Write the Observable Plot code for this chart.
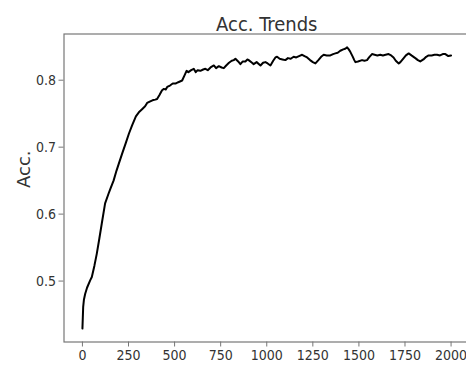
<!DOCTYPE html>
<html><head><meta charset="utf-8">
<script src="https://cdn.jsdelivr.net/npm/d3@7"></script>
<script src="https://cdn.jsdelivr.net/npm/@observablehq/plot@0.6"></script>
<style>
html,body{margin:0;padding:0;background:#fff;overflow:hidden;}
</style></head><body><div id="chart"></div>
<script>
const title = "Acc. Trends";
const yLabel = "Acc.";
const xTicks = [0, 250, 500, 750, 1000, 1250, 1500, 1750, 2000];
const yTicks = [0.5, 0.6, 0.7, 0.8];
const steps = [0,2,4,8,15,25,42,51,65,78,92,105,123,141,152,169,185,197,215,235,252,270,290,306,325,340,351,365,380,395,405,418,432,442,452,460,475,490,505,520,541,552,565,575,590,604,615,625,640,655,667,680,695,713,725,740,755,767,780,795,810,821,830,845,857,870,884,895,902,920,929,945,966,980,993,1005,1020,1035,1047,1056,1070,1085,1101,1115,1130,1146,1160,1175,1192,1205,1219,1235,1250,1264,1280,1295,1309,1325,1345,1360,1372,1385,1399,1415,1426,1436,1445,1454,1465,1475,1481,1495,1517,1530,1544,1555,1571,1585,1600,1616,1630,1645,1661,1675,1688,1700,1716,1725,1743,1755,1770,1785,1806,1820,1833,1850,1865,1878,1895,1910,1924,1940,1955,1969,1985,2000];
const acc = [0.429,0.445,0.461,0.472,0.481,0.490,0.501,0.506,0.523,0.541,0.564,0.586,0.616,0.630,0.638,0.650,0.665,0.675,0.690,0.706,0.720,0.733,0.746,0.752,0.757,0.761,0.766,0.768,0.770,0.771,0.772,0.778,0.785,0.787,0.786,0.790,0.792,0.795,0.795,0.797,0.7995,0.806,0.814,0.812,0.815,0.817,0.812,0.815,0.814,0.816,0.817,0.815,0.819,0.822,0.818,0.821,0.819,0.818,0.822,0.826,0.829,0.830,0.832,0.828,0.824,0.828,0.828,0.831,0.830,0.826,0.824,0.827,0.822,0.826,0.827,0.825,0.822,0.829,0.834,0.835,0.832,0.831,0.830,0.833,0.832,0.835,0.834,0.836,0.838,0.836,0.834,0.830,0.827,0.825,0.830,0.835,0.838,0.837,0.837,0.839,0.840,0.841,0.844,0.846,0.847,0.849,0.846,0.842,0.836,0.830,0.827,0.828,0.830,0.829,0.830,0.834,0.839,0.838,0.837,0.838,0.837,0.838,0.839,0.837,0.834,0.829,0.825,0.827,0.833,0.837,0.840,0.837,0.833,0.830,0.828,0.831,0.835,0.837,0.837,0.838,0.838,0.837,0.839,0.839,0.836,0.837];

const data = steps.map((s, i) => ({step: s, acc: acc[i]}));
const cond = "'DejaVu Sans Condensed','DejaVu Sans',sans-serif";

const chart = Plot.plot({
  width: 466, height: 367,
  marginLeft: 63.5, marginRight: -3, marginTop: 33.5, marginBottom: 25.5,
  style: {fontFamily: cond, fontSize: "14px", color: "#333", background: "#fff", overflow: "hidden"},
  x: {domain: [-100, 2100]},
  y: {domain: [0.409, 0.869]},
  marks: [
    Plot.axisX({ticks: xTicks, tickSize: 5, tickPadding: 3, label: null, tickFormat: d => String(d), stroke: "#777", fill: "#333", fontSize: 14}),
    Plot.axisY({ticks: yTicks, tickSize: 5, tickPadding: 3, label: null, tickFormat: d => d.toFixed(1), stroke: "#777", fill: "#333", fontSize: 14}),
    Plot.frame({stroke: "#777", strokeWidth: 1.2}),
    Plot.line(data, {x: "step", y: "acc", stroke: "#000", strokeWidth: 2}),
    Plot.text([title], {text: d => d, frameAnchor: "top", dy: -16.8, fontSize: 20, fill: "#333", fontFamily: cond}),
    Plot.text([yLabel], {text: d => d, frameAnchor: "left", dx: -40, rotate: -90, fontSize: 18, fill: "#333", fontFamily: "'DejaVu Sans',sans-serif"})
  ]
});
document.getElementById("chart").appendChild(chart);
</script></body></html>
